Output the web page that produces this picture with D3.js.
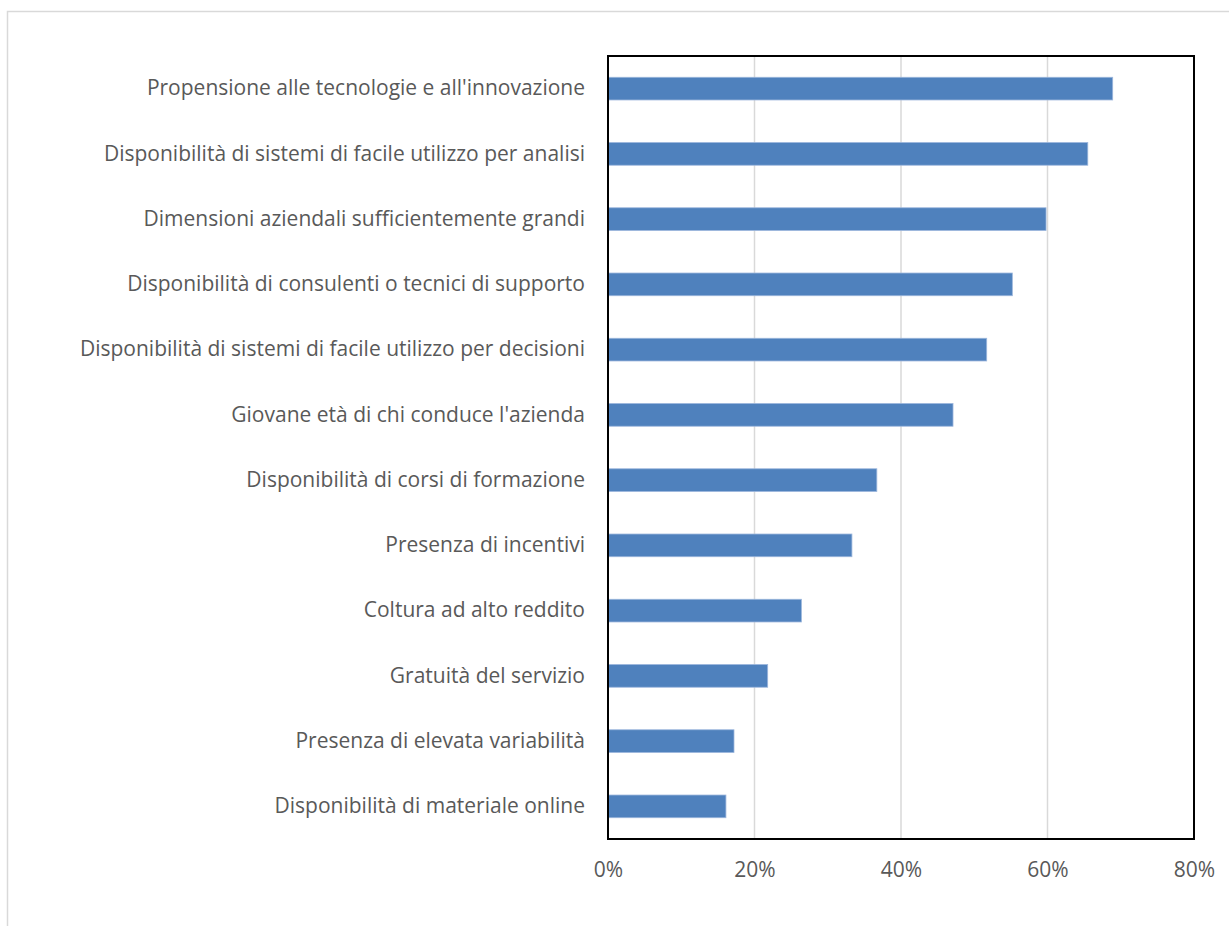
<!DOCTYPE html>
<html><head><meta charset="utf-8">
<script src="https://cdn.jsdelivr.net/npm/d3@7"></script>
<style>body{margin:0;background:#fff}svg{display:block}</style>
</head><body>
<script>
const categories = [
  "Propensione alle tecnologie e all'innovazione",
  "Disponibilità di sistemi di facile utilizzo per analisi",
  "Dimensioni aziendali sufficientemente grandi",
  "Disponibilità di consulenti o tecnici di supporto",
  "Disponibilità di sistemi di facile utilizzo per decisioni",
  "Giovane età di chi conduce l'azienda",
  "Disponibilità di corsi di formazione",
  "Presenza di incentivi",
  "Coltura ad alto reddito",
  "Gratuità del servizio",
  "Presenza di elevata variabilità",
  "Disponibilità di materiale online"
];
const values = [0.689, 0.655, 0.598, 0.552, 0.517, 0.471, 0.367, 0.333, 0.264, 0.218, 0.172, 0.161];
const tickValues = [0, 0.2, 0.4, 0.6, 0.8];

const W = 1229, H = 926;
const m = {left: 608, right: 1194, top: 56, bottom: 839};
const svg = d3.select("body").append("svg").attr("width", W).attr("height", H);

svg.append("rect").attr("x", 7.5).attr("y", 11.5).attr("width", W).attr("height", H)
  .attr("fill", "none").attr("stroke", "#d9d9d9").attr("stroke-width", 1.5);

const x = d3.scaleLinear().domain([0, 0.8]).range([m.left, m.right]);
const y = d3.scaleBand().domain(categories).range([m.top, m.bottom]).paddingInner(0.652).paddingOuter(0.326);

svg.append("g").selectAll("line").data(tickValues.slice(1, -1)).join("line")
  .attr("x1", d => x(d)).attr("x2", d => x(d)).attr("y1", m.top).attr("y2", m.bottom)
  .attr("stroke", "#d9d9d9").attr("stroke-width", 1.5);

svg.append("g").selectAll("rect").data(categories).join("rect")
  .attr("x", x(0)).attr("y", d => y(d))
  .attr("width", (d, i) => x(values[i]) - x(0)).attr("height", y.bandwidth())
  .attr("fill", "#4f81bd").attr("stroke", "#9cb6dc").attr("stroke-width", 0.8);

svg.append("rect").attr("x", m.left).attr("y", m.top)
  .attr("width", m.right - m.left).attr("height", m.bottom - m.top)
  .attr("fill", "none").attr("stroke", "#000").attr("stroke-width", 2);

const font = "'Open Sans', sans-serif";
const yAxis = d3.axisLeft(y).tickSize(0).tickPadding(23);
const gy = svg.append("g").attr("transform", `translate(${m.left},0)`).call(yAxis);
gy.select(".domain").remove();
gy.selectAll("text").attr("font-family", font).attr("font-size", 21).attr("fill", "#595959");

const xAxis = d3.axisBottom(x).tickValues(tickValues).tickFormat(d3.format(".0%")).tickSize(0).tickPadding(23);
const gx = svg.append("g").attr("transform", `translate(0,${m.bottom})`).call(xAxis);
gx.select(".domain").remove();
gx.selectAll("text").attr("font-family", font).attr("font-size", 21).attr("fill", "#595959");
</script>
</body></html>
